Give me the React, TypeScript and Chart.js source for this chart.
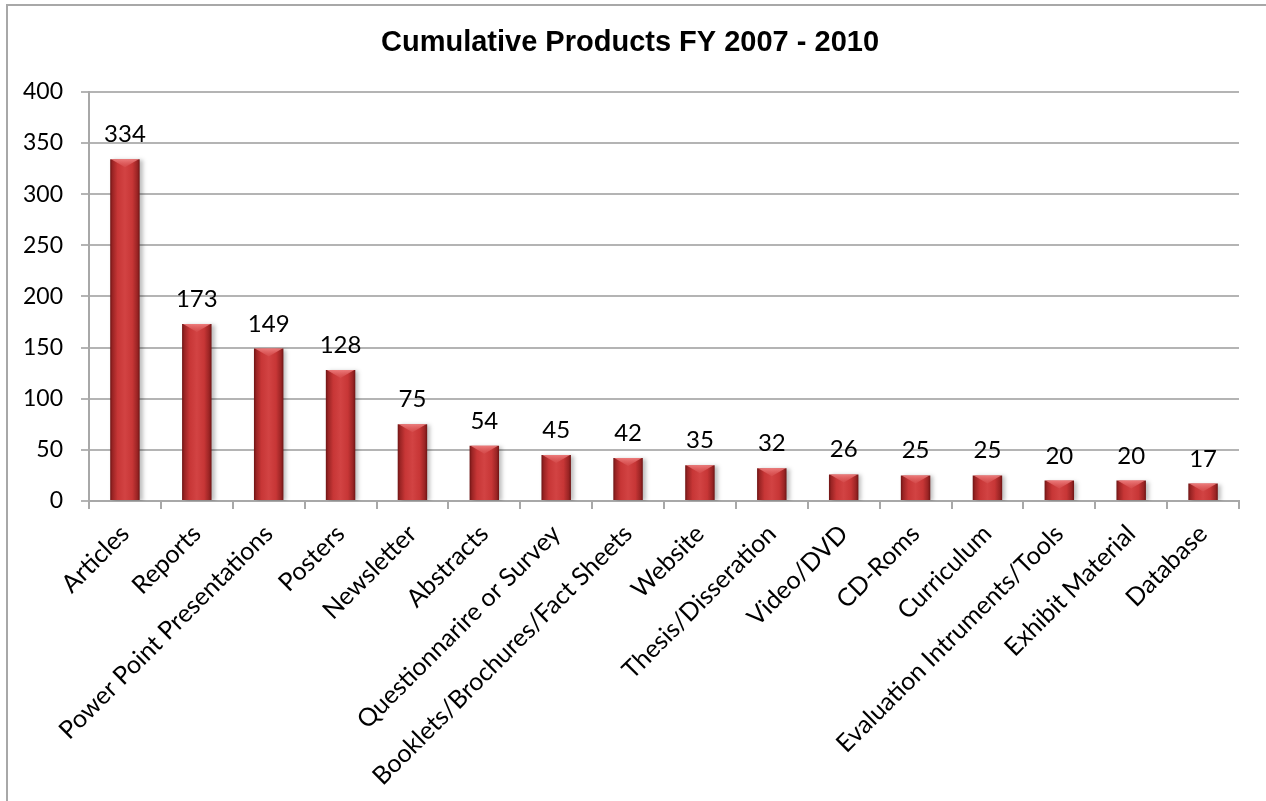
import React, { useEffect, useRef } from "react";
import { Chart, registerables } from "chart.js";

Chart.register(...registerables);

const categories = [
  "Articles",
  "Reports",
  "Power Point Presentations",
  "Posters",
  "Newsletter",
  "Abstracts",
  "Questionnarire or Survey",
  "Booklets/Brochures/Fact Sheets",
  "Website",
  "Thesis/Disseration",
  "Video/DVD",
  "CD-Roms",
  "Curriculum",
  "Evaluation Intruments/Tools",
  "Exhibit Material",
  "Database",
];

const values = [334, 173, 149, 128, 75, 54, 45, 42, 35, 32, 26, 25, 25, 20, 20, 17];

const yTicks = [0, 50, 100, 150, 200, 250, 300, 350, 400];

const chartTitle = "Cumulative Products FY 2007 - 2010";

const BAR_PCT = 0.41;
const LABEL_FONT = "Lato, 'Open Sans', sans-serif";

const valueLabelPlugin = {
  id: "valueLabels",
  beforeDatasetsDraw(chart: any) {
    const ctx = chart.ctx;
    ctx.save();
    ctx.shadowColor = "rgba(0,0,0,0.25)";
    ctx.shadowBlur = 4;
    ctx.shadowOffsetX = 3;
    ctx.shadowOffsetY = 1;
  },
  afterDatasetsDraw(chart: any) {
    const ctx = chart.ctx;
    ctx.restore();
    const meta = chart.getDatasetMeta(0);
    ctx.save();
    meta.data.forEach((bar: any) => {
      const { x, y, width } = bar.getProps(["x", "y", "width"], true);
      const l = x - width / 2;
      const r = x + width / 2;
      const h = Math.min(8, (chart.scales.y.bottom - y) / 2);
      const g = ctx.createLinearGradient(0, y, 0, y + h);
      g.addColorStop(0, "rgba(240,130,130,0.9)");
      g.addColorStop(1, "rgba(220,90,90,0.35)");
      ctx.fillStyle = g;
      ctx.beginPath();
      ctx.moveTo(l + 1, y);
      ctx.lineTo(r - 1, y);
      ctx.lineTo(x, y + h);
      ctx.closePath();
      ctx.fill();
    });
    ctx.fillStyle = "#000";
    ctx.font = `24px ${LABEL_FONT}`;
    ctx.textAlign = "center";
    ctx.textBaseline = "alphabetic";
    meta.data.forEach((bar: any, i: number) => {
      const { x, y } = bar.getProps(["x", "y"], true);
      ctx.fillText(String(values[i]), x, y - 17);
    });
    ctx.restore();
  },
};

export default function App() {
  const canvasRef = useRef<HTMLCanvasElement | null>(null);

  useEffect(() => {
    if (!canvasRef.current) return;
    const chart = new Chart(canvasRef.current, {
      type: "bar",
      data: {
        labels: categories,
        datasets: [
          {
            data: values,
            categoryPercentage: 1,
            barPercentage: BAR_PCT,
            borderWidth: 0,
            backgroundColor: (c: any) => {
              const ch = c.chart;
              const xs = ch.scales && ch.scales.x;
              if (!xs || c.dataIndex === undefined || !ch.chartArea) return "#c43a3a";
              const cx = xs.getPixelForValue(c.dataIndex);
              const w = (xs.width / categories.length) * BAR_PCT;
              const g = ch.ctx.createLinearGradient(cx - w / 2, 0, cx + w / 2, 0);
              g.addColorStop(0, "#6e1414");
              g.addColorStop(0.08, "#9a2424");
              g.addColorStop(0.25, "#c73636");
              g.addColorStop(0.5, "#d24343");
              g.addColorStop(0.75, "#c73636");
              g.addColorStop(0.92, "#9a2424");
              g.addColorStop(1, "#6e1414");
              return g;
            },
          },
        ],
      },
      options: {
        animation: false,
        responsive: false,
        maintainAspectRatio: false,
        layout: { padding: { left: 21, right: 27, top: 0, bottom: 0 } },
        plugins: {
          legend: { display: false },
          tooltip: { enabled: false },
          title: {
            display: true,
            text: chartTitle,
            color: "#000",
            font: { family: "'Liberation Sans', Arial, sans-serif", size: 29, weight: "bold" },
            padding: { top: 26, bottom: 31 },
          },
        },
        scales: {
          x: {
            offset: true,
            grid: {
              display: true,
              drawOnChartArea: false,
              drawTicks: true,
              tickLength: 8,
              color: "#a8a8a8",
              lineWidth: 2,
              offset: true,
            },
            border: { display: true, color: "#a8a8a8", width: 2 },
            ticks: {
              autoSkip: false,
              minRotation: 45,
              maxRotation: 45,
              color: "#000",
              padding: 10,
              font: { family: LABEL_FONT, size: 25 },
            },
            afterFit: (s: any) => {
              s.height = 300;
            },
          },
          y: {
            min: 0,
            max: 400,
            afterBuildTicks: (s: any) => {
              s.ticks = yTicks.map((v) => ({ value: v }));
            },
            grid: {
              color: "#b4b4b4",
              lineWidth: 2,
              tickLength: 8,
            },
            border: { display: true, color: "#a8a8a8", width: 2 },
            ticks: {
              color: "#000",
              padding: 18,
              font: { family: LABEL_FONT, size: 23 },
            },
            afterFit: (s: any) => {
              s.width = 68;
            },
          },
        },
      },
      plugins: [valueLabelPlugin],
    });
    return () => chart.destroy();
  }, []);

  return (
    <div style={{ position: "absolute", left: 0, top: 0, width: 1266, height: 801, background: "#fff", overflow: "hidden" }}>
      <div
        style={{
          position: "absolute",
          left: 6,
          top: 4,
          width: 1300,
          height: 900,
          borderLeft: "2px solid #a8a8a8",
          borderTop: "2px solid #a8a8a8",
        }}
      />
      <canvas ref={canvasRef} width={1266} height={801} style={{ position: "absolute", left: 0, top: 0 }} />
    </div>
  );
}
